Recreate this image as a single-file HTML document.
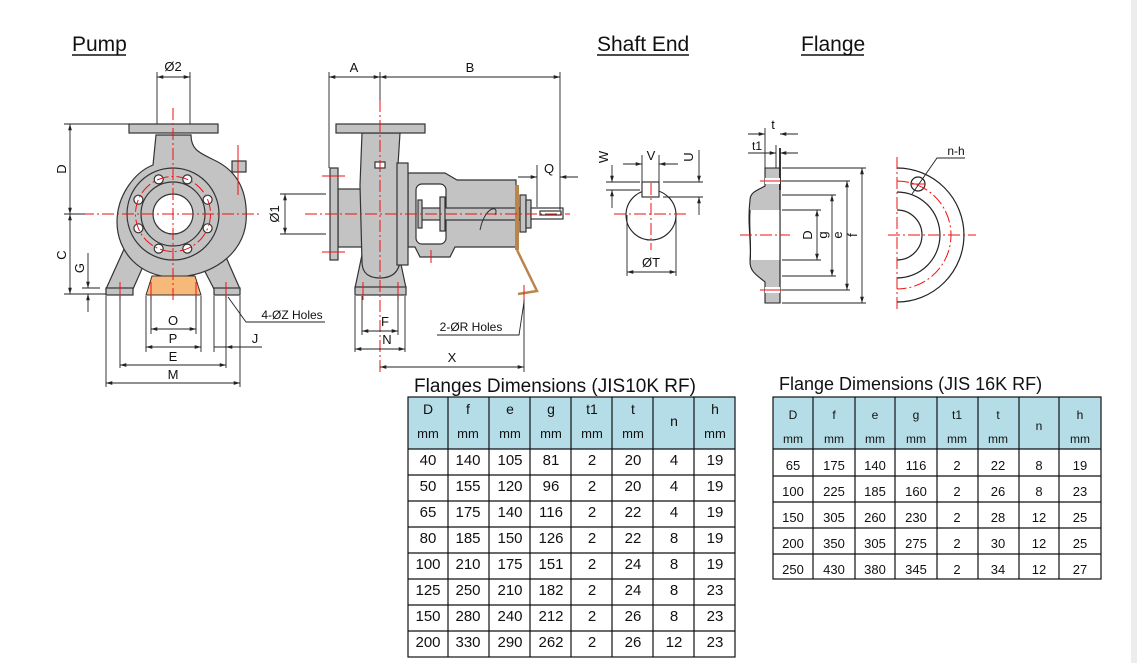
<!DOCTYPE html>
<html><head><meta charset="utf-8"><style>
html,body{margin:0;padding:0;background:#fff;}
svg{display:block;font-family:"Liberation Sans",Arial,sans-serif;}
</style></head><body>
<svg width="1137" height="663" viewBox="0 0 1137 663" xmlns="http://www.w3.org/2000/svg">
<defs>
<marker id="ar" viewBox="0 0 10 10" refX="10" refY="5" markerWidth="7" markerHeight="7" orient="auto-start-reverse"><path d="M0,2 L10,5 L0,8 z" fill="#222"/></marker>
</defs>
<rect x="1131" y="0" width="6" height="663" fill="#ececec"/>

<!-- Titles -->
<g font-size="21" fill="#111">
<text x="72" y="51">Pump</text><line x1="72" y1="55" x2="126" y2="55" stroke="#111" stroke-width="1.6"/>
<text x="597" y="51">Shaft End</text><line x1="597" y1="55" x2="689" y2="55" stroke="#111" stroke-width="1.6"/>
<text x="801" y="51">Flange</text><line x1="801" y1="55" x2="864" y2="55" stroke="#111" stroke-width="1.6"/>
</g>

<!-- ===== PUMP FRONT VIEW ===== -->
<g stroke="#333" stroke-width="1.2" fill="#c3c3c3">
<polygon points="106,289 125,247 145,262 133,289"/>
<polygon points="240,289 222,248 200,262 214,289"/>
<path d="M156,135 L191,135 C191,150 200,153 214,160 C240,172 248,195 246,222 C243,254 212,277 173,277 C140,277 117,252 117,222 C117,195 135,172 153,165 Z"/>
<rect x="129" y="124" width="89" height="9"/>
<rect x="106" y="288" width="27" height="7"/>
<rect x="214" y="288" width="26" height="7"/>
<rect x="232" y="161" width="14" height="11"/>
<circle cx="173" cy="214" r="46"/>
<circle cx="173" cy="214" r="32" fill="#c3c3c3"/>
<circle cx="173" cy="214" r="20" fill="#fff"/>
</g>
<polygon points="152,276 195,276 201,295 146,295" fill="#f7b97a" stroke="#333" stroke-width="1"/>
<g fill="#fff" stroke="#333" stroke-width="1.2">
<circle cx="207.6" cy="228.3" r="4.5"/><circle cx="187.3" cy="248.6" r="4.5"/><circle cx="158.7" cy="248.6" r="4.5"/><circle cx="138.4" cy="228.3" r="4.5"/>
<circle cx="138.4" cy="199.7" r="4.5"/><circle cx="158.7" cy="179.4" r="4.5"/><circle cx="187.3" cy="179.4" r="4.5"/><circle cx="207.6" cy="199.7" r="4.5"/>
</g>
<g stroke="#e11" stroke-width="1" fill="none" stroke-dasharray="12,3,2,3">
<line x1="173" y1="108" x2="173" y2="300"/>
<line x1="82" y1="214" x2="260" y2="214"/>
<circle cx="173" cy="214" r="37.5"/>
<line x1="238" y1="145" x2="238" y2="195" stroke-dasharray="none"/>
<line x1="120" y1="282" x2="120" y2="300" stroke-dasharray="none"/>
<line x1="226" y1="282" x2="226" y2="300" stroke-dasharray="none"/>
<line x1="151" y1="282" x2="151" y2="300" stroke-dasharray="none"/>
<line x1="196" y1="282" x2="196" y2="300" stroke-dasharray="none"/>
</g>
<g stroke="#222" stroke-width="0.9" fill="none">
<line x1="157" y1="72" x2="157" y2="124"/><line x1="190" y1="72" x2="190" y2="124"/>
<line x1="157" y1="77" x2="190" y2="77" marker-start="url(#ar)" marker-end="url(#ar)"/>
<line x1="64" y1="124" x2="129" y2="124"/><line x1="64" y1="214" x2="85" y2="214"/><line x1="64" y1="294" x2="106" y2="294"/>
<line x1="70" y1="124" x2="70" y2="214" marker-start="url(#ar)" marker-end="url(#ar)"/>
<line x1="70" y1="214" x2="70" y2="294" marker-start="url(#ar)" marker-end="url(#ar)"/>
<line x1="82" y1="288" x2="100" y2="288"/>
<line x1="88" y1="253" x2="88" y2="288" marker-end="url(#ar)"/>
<line x1="88" y1="312" x2="88" y2="294" marker-end="url(#ar)"/>
<line x1="106" y1="296" x2="106" y2="387"/><line x1="120" y1="296" x2="120" y2="368"/>
<line x1="146" y1="296" x2="146" y2="352"/><line x1="151" y1="296" x2="151" y2="334"/>
<line x1="196" y1="296" x2="196" y2="334"/><line x1="201" y1="296" x2="201" y2="352"/>
<line x1="214" y1="296" x2="214" y2="352"/><line x1="226" y1="296" x2="226" y2="368"/>
<line x1="240" y1="296" x2="240" y2="387"/>
<line x1="151" y1="329" x2="196" y2="329" marker-start="url(#ar)" marker-end="url(#ar)"/>
<line x1="146" y1="347" x2="201" y2="347" marker-start="url(#ar)" marker-end="url(#ar)"/>
<line x1="120" y1="365" x2="226" y2="365" marker-start="url(#ar)" marker-end="url(#ar)"/>
<line x1="106" y1="383" x2="240" y2="383" marker-start="url(#ar)" marker-end="url(#ar)"/>
<line x1="214" y1="347" x2="262" y2="347"/>
<line x1="226" y1="347" x2="240" y2="347" marker-start="url(#ar)"/>
<polyline points="228,297 246,322 325,322"/>
</g>
<g font-size="13" fill="#111" text-anchor="middle">
<text x="173" y="71">Ø2</text>
<text x="173" y="325">O</text><text x="173" y="343">P</text><text x="173" y="361">E</text><text x="173" y="379">M</text>
<text x="255" y="343">J</text>
<text x="66" y="169" transform="rotate(-90 66 169)">D</text>
<text x="66" y="255" transform="rotate(-90 66 255)">C</text>
<text x="84" y="268" transform="rotate(-90 84 268)">G</text>
<text x="292" y="319" font-size="12">4-ØZ Holes</text>
</g>

<!-- ===== PUMP SIDE VIEW ===== -->
<g stroke="#333" stroke-width="1.2" fill="#c3c3c3">
<polygon points="363,250 398,250 406,288 355,288"/>
<rect x="355" y="287" width="51" height="8"/>
<rect x="338" y="189" width="26" height="58"/>
<path d="M408,173 L445,173 L457,180 L516,180 L516,247 L455,247 L450,257 L420,257 L415,247 L408,247 Z"/>
<path d="M362,133 L400,133 L398,165 L400,262 C398,274 390,278 380,278 C370,278 362,274 362,262 L360,185 Z"/>
<rect x="397" y="163" width="11" height="102"/>
<rect x="330" y="168" width="8" height="92"/>
<rect x="336" y="124" width="89" height="9"/>
<rect x="416" y="184" width="30" height="60" rx="6" fill="#fff"/>
<rect x="420" y="208" width="100" height="12"/>
<rect x="418" y="200" width="4" height="28"/>
<rect x="440" y="197" width="5" height="34"/>
<rect x="520" y="195" width="6" height="37"/>
<rect x="526" y="200" width="5" height="28"/>
<rect x="531" y="208" width="32" height="11" fill="#fff"/>
<rect x="540" y="211" width="21" height="4" fill="#fff"/>
<rect x="375" y="162" width="10" height="6" fill="#fff"/>
</g>
<rect x="515" y="185" width="4" height="65" fill="#b8864a"/>
<polyline points="517,250 537,291 518,294" fill="none" stroke="#b8864a" stroke-width="2.5"/>
<path d="M480,230 C485,205 500,205 495,215" fill="none" stroke="#333"/>
<g stroke="#e11" stroke-width="1" fill="none" stroke-dasharray="12,3,2,3">
<line x1="380" y1="100" x2="380" y2="372"/>
<line x1="305" y1="214" x2="570" y2="214"/>
<line x1="322" y1="176" x2="345" y2="176" stroke-dasharray="none"/>
<line x1="322" y1="252" x2="345" y2="252" stroke-dasharray="none"/>
<line x1="363" y1="282" x2="363" y2="300" stroke-dasharray="none"/>
<line x1="398" y1="282" x2="398" y2="300" stroke-dasharray="none"/>
<line x1="431" y1="250" x2="431" y2="263" stroke-dasharray="none"/>
<line x1="524" y1="285" x2="524" y2="302" stroke-dasharray="none"/>
</g>
<g stroke="#222" stroke-width="0.9" fill="none">
<line x1="329" y1="72" x2="329" y2="168"/><line x1="380" y1="72" x2="380" y2="100"/><line x1="560" y1="72" x2="560" y2="210"/>
<line x1="329" y1="77" x2="380" y2="77" marker-start="url(#ar)" marker-end="url(#ar)"/>
<line x1="380" y1="77" x2="560" y2="77" marker-start="url(#ar)" marker-end="url(#ar)"/>
<line x1="280" y1="194" x2="326" y2="194"/><line x1="280" y1="234" x2="326" y2="234"/>
<line x1="285" y1="194" x2="285" y2="234" marker-start="url(#ar)" marker-end="url(#ar)"/>
<line x1="537" y1="165" x2="537" y2="207"/>
<line x1="518" y1="177" x2="537" y2="177" marker-end="url(#ar)"/>
<line x1="578" y1="177" x2="560" y2="177" marker-end="url(#ar)"/>
<line x1="355" y1="296" x2="355" y2="352"/><line x1="405" y1="296" x2="405" y2="352"/>
<line x1="362" y1="296" x2="362" y2="335"/><line x1="398" y1="296" x2="398" y2="335"/>
<line x1="524" y1="300" x2="524" y2="372"/>
<line x1="362" y1="331" x2="398" y2="331" marker-start="url(#ar)" marker-end="url(#ar)"/>
<line x1="355" y1="349" x2="405" y2="349" marker-start="url(#ar)" marker-end="url(#ar)"/>
<line x1="380" y1="367" x2="524" y2="367" marker-start="url(#ar)" marker-end="url(#ar)"/>
<polyline points="437,335 519,335 524,302"/>
</g>
<g font-size="13" fill="#111" text-anchor="middle">
<text x="354" y="72">A</text><text x="470" y="72">B</text>
<text x="549" y="173">Q</text>
<text x="279" y="214" transform="rotate(-90 279 214)">Ø1</text>
<text x="385" y="326">F</text><text x="387" y="344">N</text><text x="452" y="362">X</text>
<text x="471" y="331" font-size="12">2-ØR Holes</text>
</g>

<!-- ===== SHAFT END ===== -->
<g stroke="#222" stroke-width="1.1" fill="#fff">
<circle cx="651" cy="215" r="25"/>
<rect x="642" y="182" width="17" height="15"/>
</g>
<g stroke="#e11" stroke-width="1" stroke-dasharray="12,3,2,3">
<line x1="614" y1="214" x2="688" y2="214"/><line x1="651" y1="183" x2="651" y2="250"/>
</g>
<g stroke="#222" stroke-width="0.9" fill="none">
<line x1="642" y1="155" x2="642" y2="182"/><line x1="659" y1="155" x2="659" y2="182"/>
<line x1="623" y1="164" x2="642" y2="164" marker-end="url(#ar)"/>
<line x1="678" y1="164" x2="659" y2="164" marker-end="url(#ar)"/>
<line x1="606" y1="182" x2="640" y2="182"/><line x1="606" y1="190" x2="640" y2="190"/>
<line x1="612" y1="165" x2="612" y2="182" marker-end="url(#ar)"/>
<line x1="612" y1="208" x2="612" y2="190" marker-end="url(#ar)"/>
<line x1="663" y1="182" x2="703" y2="182"/><line x1="663" y1="197" x2="703" y2="197"/>
<line x1="699" y1="150" x2="699" y2="182" marker-end="url(#ar)"/>
<line x1="699" y1="215" x2="699" y2="197" marker-end="url(#ar)"/>
<line x1="627" y1="215" x2="627" y2="276"/><line x1="676" y1="215" x2="676" y2="276"/>
<line x1="627" y1="272" x2="676" y2="272" marker-start="url(#ar)" marker-end="url(#ar)"/>
</g>
<g font-size="13" fill="#111" text-anchor="middle">
<text x="651" y="160">V</text><text x="651" y="267">ØT</text>
<text x="608" y="157" transform="rotate(-90 608 157)">W</text>
<text x="693" y="157" transform="rotate(-90 693 157)">U</text>
</g>

<!-- ===== FLANGE PROFILE ===== -->
<path d="M765,168 L780,168 L780,303 L765,303 L765,282 C758,276 750,272 750,262 C752,245 747,225 750,200 C750,192 758,190 765,186 Z" fill="#c3c3c3" stroke="#222" stroke-width="1.1"/>
<rect x="751" y="210" width="29" height="50" fill="#fff"/>
<path d="M750,210 C748,225 752,245 750,260" fill="none" stroke="#222" stroke-width="1.1"/>
<line x1="780" y1="168" x2="780" y2="303" stroke="#222" stroke-width="1.1"/>
<line x1="780" y1="148" x2="780" y2="190" stroke="#222" stroke-width="1.8"/>
<rect x="765" y="178" width="15" height="6" fill="#fff"/><rect x="765" y="287" width="15" height="6" fill="#fff"/>
<g stroke="#e11" stroke-width="1">
<line x1="740" y1="235" x2="790" y2="235" stroke-dasharray="12,3,2,3"/>
<line x1="760" y1="181" x2="786" y2="181"/><line x1="760" y1="290" x2="786" y2="290"/>
</g>
<g stroke="#222" stroke-width="0.9" fill="none">
<line x1="782" y1="168" x2="866" y2="168"/><line x1="782" y1="181" x2="850" y2="181"/>
<line x1="782" y1="195" x2="836" y2="195"/><line x1="782" y1="210" x2="821" y2="210"/>
<line x1="782" y1="260" x2="821" y2="260"/><line x1="782" y1="276" x2="836" y2="276"/>
<line x1="782" y1="290" x2="850" y2="290"/><line x1="782" y1="303" x2="866" y2="303"/>
<line x1="817" y1="210" x2="817" y2="260" marker-start="url(#ar)" marker-end="url(#ar)"/>
<line x1="832" y1="195" x2="832" y2="276" marker-start="url(#ar)" marker-end="url(#ar)"/>
<line x1="847" y1="181" x2="847" y2="290" marker-start="url(#ar)" marker-end="url(#ar)"/>
<line x1="862" y1="168" x2="862" y2="303" marker-start="url(#ar)" marker-end="url(#ar)"/>
<line x1="765" y1="128" x2="765" y2="168"/><line x1="776" y1="145" x2="776" y2="168"/>
<line x1="748" y1="134" x2="765" y2="134" marker-end="url(#ar)"/>
<line x1="798" y1="134" x2="780" y2="134" marker-end="url(#ar)"/>
<line x1="748" y1="153" x2="776" y2="153" marker-end="url(#ar)"/>
<line x1="798" y1="153" x2="780" y2="153" marker-end="url(#ar)"/>
</g>
<g font-size="13" fill="#111" text-anchor="middle">
<text x="773" y="129">t</text><text x="757" y="150" font-size="12">t1</text>
<text x="812" y="235" transform="rotate(-90 812 235)">D</text>
<text x="827" y="235" transform="rotate(-90 827 235)">g</text>
<text x="842" y="235" transform="rotate(-90 842 235)">e</text>
<text x="857" y="235" transform="rotate(-90 857 235)">f</text>
</g>

<!-- ===== FLANGE FACE ===== -->
<g fill="none" stroke="#222" stroke-width="1.2">
<path d="M897,168 A67,67 0 0 1 897,302"/>
<path d="M897,192 A43,43 0 0 1 897,278"/>
<path d="M897,210 A25,25 0 0 1 897,260"/>
<circle cx="918" cy="184" r="7"/>
<polyline points="912,194 937,158 965,158" stroke-width="0.9"/>
</g>
<g stroke="#e11" stroke-width="1" fill="none" stroke-dasharray="12,3,2,3">
<path d="M897,181 A54,54 0 0 1 897,289"/>
<line x1="897" y1="157" x2="897" y2="312"/>
<line x1="888" y1="235" x2="976" y2="235"/>
<line x1="911" y1="184" x2="925" y2="184" stroke-dasharray="none"/>
</g>
<text x="956" y="155" font-size="12" fill="#111" text-anchor="middle">n-h</text>

<!-- ===== TABLE 1 ===== -->
<text x="414" y="392" font-size="19" fill="#111">Flanges Dimensions (JIS10K RF)</text>
<rect x="408" y="397" width="327" height="52" fill="#b5dde7"/>
<g stroke="#111" stroke-width="1.2" fill="none">
<rect x="408" y="397" width="327" height="260"/>
<line x1="408" y1="449" x2="735" y2="449"/>
<line x1="408" y1="475" x2="735" y2="475"/><line x1="408" y1="501" x2="735" y2="501"/>
<line x1="408" y1="527" x2="735" y2="527"/><line x1="408" y1="553" x2="735" y2="553"/>
<line x1="408" y1="579" x2="735" y2="579"/><line x1="408" y1="605" x2="735" y2="605"/>
<line x1="408" y1="631" x2="735" y2="631"/>
<line x1="448" y1="397" x2="448" y2="657"/><line x1="489" y1="397" x2="489" y2="657"/>
<line x1="530" y1="397" x2="530" y2="657"/><line x1="571" y1="397" x2="571" y2="657"/>
<line x1="612" y1="397" x2="612" y2="657"/><line x1="653" y1="397" x2="653" y2="657"/>
<line x1="694" y1="397" x2="694" y2="657"/>
</g>
<g font-size="14" fill="#111" text-anchor="middle">
<g><text x="428" y="414">D</text><text x="468" y="414">f</text><text x="510" y="414">e</text><text x="551" y="414">g</text><text x="592" y="414">t1</text><text x="633" y="414">t</text><text x="674" y="426">n</text><text x="715" y="414">h</text></g>
<g font-size="13"><text x="428" y="438">mm</text><text x="468" y="438">mm</text><text x="510" y="438">mm</text><text x="551" y="438">mm</text><text x="592" y="438">mm</text><text x="633" y="438">mm</text><text x="715" y="438">mm</text></g>
<g font-size="15">
<text y="465"><tspan x="428">40</tspan><tspan x="468">140</tspan><tspan x="510">105</tspan><tspan x="551">81</tspan><tspan x="592">2</tspan><tspan x="633">20</tspan><tspan x="674">4</tspan><tspan x="715">19</tspan></text>
<text y="491"><tspan x="428">50</tspan><tspan x="468">155</tspan><tspan x="510">120</tspan><tspan x="551">96</tspan><tspan x="592">2</tspan><tspan x="633">20</tspan><tspan x="674">4</tspan><tspan x="715">19</tspan></text>
<text y="517"><tspan x="428">65</tspan><tspan x="468">175</tspan><tspan x="510">140</tspan><tspan x="551">116</tspan><tspan x="592">2</tspan><tspan x="633">22</tspan><tspan x="674">4</tspan><tspan x="715">19</tspan></text>
<text y="543"><tspan x="428">80</tspan><tspan x="468">185</tspan><tspan x="510">150</tspan><tspan x="551">126</tspan><tspan x="592">2</tspan><tspan x="633">22</tspan><tspan x="674">8</tspan><tspan x="715">19</tspan></text>
<text y="569"><tspan x="428">100</tspan><tspan x="468">210</tspan><tspan x="510">175</tspan><tspan x="551">151</tspan><tspan x="592">2</tspan><tspan x="633">24</tspan><tspan x="674">8</tspan><tspan x="715">19</tspan></text>
<text y="595"><tspan x="428">125</tspan><tspan x="468">250</tspan><tspan x="510">210</tspan><tspan x="551">182</tspan><tspan x="592">2</tspan><tspan x="633">24</tspan><tspan x="674">8</tspan><tspan x="715">23</tspan></text>
<text y="621"><tspan x="428">150</tspan><tspan x="468">280</tspan><tspan x="510">240</tspan><tspan x="551">212</tspan><tspan x="592">2</tspan><tspan x="633">26</tspan><tspan x="674">8</tspan><tspan x="715">23</tspan></text>
<text y="647"><tspan x="428">200</tspan><tspan x="468">330</tspan><tspan x="510">290</tspan><tspan x="551">262</tspan><tspan x="592">2</tspan><tspan x="633">26</tspan><tspan x="674">12</tspan><tspan x="715">23</tspan></text>
</g>
</g>

<!-- ===== TABLE 2 ===== -->
<text x="779" y="390" font-size="18" fill="#111">Flange Dimensions (JIS 16K RF)</text>
<rect x="773" y="397" width="328" height="52" fill="#b5dde7"/>
<g stroke="#111" stroke-width="1.2" fill="none">
<rect x="773" y="397" width="328" height="182"/>
<line x1="773" y1="449" x2="1101" y2="449"/><line x1="773" y1="476" x2="1101" y2="476"/>
<line x1="773" y1="502" x2="1101" y2="502"/><line x1="773" y1="528" x2="1101" y2="528"/>
<line x1="773" y1="554" x2="1101" y2="554"/>
<line x1="813" y1="397" x2="813" y2="579"/><line x1="855" y1="397" x2="855" y2="579"/>
<line x1="895" y1="397" x2="895" y2="579"/><line x1="937" y1="397" x2="937" y2="579"/>
<line x1="978" y1="397" x2="978" y2="579"/><line x1="1019" y1="397" x2="1019" y2="579"/>
<line x1="1059" y1="397" x2="1059" y2="579"/>
</g>
<g font-size="12" fill="#111" text-anchor="middle">
<text y="419"><tspan x="793">D</tspan><tspan x="834">f</tspan><tspan x="875">e</tspan><tspan x="916">g</tspan><tspan x="957">t1</tspan><tspan x="998">t</tspan><tspan x="1080">h</tspan></text>
<text x="1039" y="430">n</text>
<text y="443"><tspan x="793">mm</tspan><tspan x="834">mm</tspan><tspan x="875">mm</tspan><tspan x="916">mm</tspan><tspan x="957">mm</tspan><tspan x="998">mm</tspan><tspan x="1080">mm</tspan></text>
<g font-size="13">
<text y="470"><tspan x="793">65</tspan><tspan x="834">175</tspan><tspan x="875">140</tspan><tspan x="916">116</tspan><tspan x="957">2</tspan><tspan x="998">22</tspan><tspan x="1039">8</tspan><tspan x="1080">19</tspan></text>
<text y="496"><tspan x="793">100</tspan><tspan x="834">225</tspan><tspan x="875">185</tspan><tspan x="916">160</tspan><tspan x="957">2</tspan><tspan x="998">26</tspan><tspan x="1039">8</tspan><tspan x="1080">23</tspan></text>
<text y="522"><tspan x="793">150</tspan><tspan x="834">305</tspan><tspan x="875">260</tspan><tspan x="916">230</tspan><tspan x="957">2</tspan><tspan x="998">28</tspan><tspan x="1039">12</tspan><tspan x="1080">25</tspan></text>
<text y="548"><tspan x="793">200</tspan><tspan x="834">350</tspan><tspan x="875">305</tspan><tspan x="916">275</tspan><tspan x="957">2</tspan><tspan x="998">30</tspan><tspan x="1039">12</tspan><tspan x="1080">25</tspan></text>
<text y="574"><tspan x="793">250</tspan><tspan x="834">430</tspan><tspan x="875">380</tspan><tspan x="916">345</tspan><tspan x="957">2</tspan><tspan x="998">34</tspan><tspan x="1039">12</tspan><tspan x="1080">27</tspan></text>
</g>
</g>
</svg>
</body></html>
